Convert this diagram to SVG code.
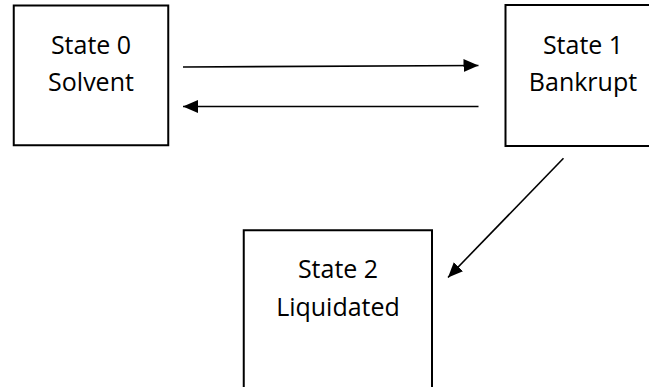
<svg xmlns="http://www.w3.org/2000/svg" width="649" height="387" viewBox="0 0 649 387">
  <style>
    .box { fill: #ffffff; stroke: #000000; stroke-width: 2; }
    .lbl { font-family: "Open Sans", "Liberation Sans", sans-serif; font-size: 25px; fill: #000000; text-anchor: middle; }
    .edge { stroke: #000000; stroke-width: 1.6; fill: none; marker-end: url(#arrow); }
  </style>
  <defs>
    <marker id="arrow" viewBox="0 0 15 13" refX="15" refY="6.5" markerWidth="15" markerHeight="13" markerUnits="userSpaceOnUse" orient="auto">
      <path d="M0,0 L15,6.5 L0,13 z" fill="#000000"/>
    </marker>
  </defs>
  <rect x="0" y="0" width="649" height="387" fill="#ffffff"/>
  <g id="state0">
    <rect class="box" x="13.75" y="5.5" width="154.5" height="139.75"/>
    <text class="lbl" x="91" y="53.5">State 0</text>
    <text class="lbl" x="91" y="91">Solvent</text>
  </g>
  <g id="state1">
    <rect class="box" x="505.5" y="5" width="155" height="141"/>
    <text class="lbl" x="583" y="53.5">State 1</text>
    <text class="lbl" x="583" y="91">Bankrupt</text>
  </g>
  <g id="state2">
    <rect class="box" x="243.75" y="230.25" width="188.25" height="200"/>
    <text class="lbl" x="338" y="277.5">State 2</text>
    <text class="lbl" x="338" y="316">Liquidated</text>
  </g>
  <g id="connectors">
    <line class="edge" x1="183" y1="67" x2="478.5" y2="65.5"/>
    <line class="edge" x1="478.5" y1="106.5" x2="183" y2="106.5"/>
    <line class="edge" x1="563.5" y1="158.3" x2="448" y2="277.5"/>
  </g>
</svg>
